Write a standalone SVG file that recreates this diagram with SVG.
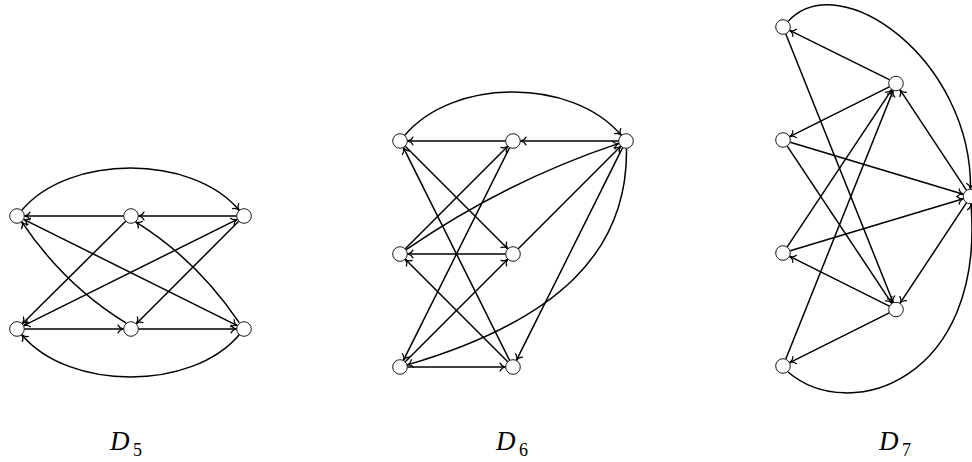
<svg xmlns="http://www.w3.org/2000/svg" width="972" height="462" viewBox="0 0 972 462">
<defs>
<marker id="arr" markerUnits="userSpaceOnUse" markerWidth="12" markerHeight="12" refX="0" refY="0" orient="auto-start-reverse" overflow="visible">
<path d="M -5.5,-4 C -4.4,-1.4 -1.7,-0.3 0,0 C -1.7,0.3 -4.4,1.4 -5.5,4" fill="none" stroke="#000" stroke-width="1.2" stroke-linecap="round"/>
</marker>
<style>
.e{fill:none;stroke:#000;stroke-width:1.5;marker-end:url(#arr)}
.b{marker-start:url(#arr)}
.n{fill:#fff;stroke:#000;stroke-width:0.9}
.lbl{font-family:"Liberation Serif","Times New Roman",serif;font-size:27px;font-style:italic;fill:#000}
.sub{font-family:"Liberation Serif","Times New Roman",serif;font-size:18px;fill:#000}
</style>
</defs>
<g id="connectors">
<!-- D5 -->
<path class="e" d="M 21.8,210.3 C 69,154 192,154 239.2,210.3"/>
<path class="e" d="M 239.2,334.7 C 192,391 69,391 21.8,334.7"/>
<path class="e" d="M 123.5,216 L 24.5,216"/>
<path class="e" d="M 236.5,216 L 138.5,216"/>
<path class="e" d="M 24.5,329 L 123.5,329"/>
<path class="e" d="M 138.5,329 L 236.5,329"/>
<path class="e" d="M 125.7,221.3 L 22.3,323.7"/>
<path class="e b" d="M 237.3,219.3 L 23.7,325.7"/>
<path class="e" d="M 238.7,221.3 L 136.3,323.7"/>
<path class="e b" d="M 23.7,219.3 L 237.3,325.7"/>
<path class="e" d="M 126.3,323.2 Q 64,285 21.8,221.8"/>
<path class="e" d="M 239.2,322.7 Q 197,260 135.7,221.8"/>
<!-- D6 -->
<path class="e" d="M 404.8,135.3 C 453.2,77.6 572.8,77.6 621.2,135.3"/>
<path class="e" d="M 505.5,141 L 407.5,141"/>
<path class="e" d="M 618.5,141 L 520.5,141"/>
<path class="e" d="M 505.5,254 L 407.5,254"/>
<path class="e" d="M 407.5,367 L 505.5,367"/>
<path class="e" d="M 405.3,248.7 L 507.7,146.3"/>
<path class="e" d="M 509.6,147.7 L 403.4,360.3"/>
<path class="e" d="M 405.3,146.3 L 507.7,248.7"/>
<path class="e" d="M 509.6,360.3 L 403.4,147.7"/>
<path class="e" d="M 406.2,249.7 Q 505,181.4 618.9,143.4"/>
<path class="e" d="M 518.3,248.7 L 620.7,146.3"/>
<path class="e" d="M 622.6,147.7 L 516.4,360.3"/>
<path class="e" d="M 626.5,148.5 C 628,250 560,320 407.2,364.9"/>
<path class="e" d="M 405.3,361.7 L 507.7,259.3"/>
<path class="e" d="M 507.7,361.7 L 405.3,259.3"/>
<!-- D7 -->
<path class="e" d="M 788,21.5 C 840,-35 972,60 970.5,189"/>
<path class="e" d="M 788,372 C 850,425 985,380 971,204"/>
<path class="e" d="M 889.3,79.6 L 789.7,30.4"/>
<path class="e" d="M 889.3,86.9 L 789.7,136.6"/>
<path class="e" d="M 790.2,142.2 L 963.3,194.3"/>
<path class="e" d="M 787.2,146.2 L 891.8,303.3"/>
<path class="e" d="M 785.8,34 L 893.2,302.5"/>
<path class="e" d="M 966.4,190.2 L 900.1,89.8"/>
<path class="e" d="M 787.2,246.8 L 891.8,89.7"/>
<path class="e" d="M 785.8,359 L 893.2,90.5"/>
<path class="e" d="M 790.2,250.8 L 963.3,198.7"/>
<path class="e" d="M 889.3,306.1 L 789.7,256.4"/>
<path class="e" d="M 889.3,312.9 L 789.7,362.6"/>
<path class="e" d="M 966.4,202.8 L 900.1,303.2"/>
</g>
<g id="d5-tl"><circle class="n" cx="17" cy="216" r="7.3"/></g>
<g id="d5-tm"><circle class="n" cx="131" cy="216" r="7.3"/></g>
<g id="d5-tr"><circle class="n" cx="244" cy="216" r="7.3"/></g>
<g id="d5-bl"><circle class="n" cx="17" cy="329" r="7.3"/></g>
<g id="d5-bm"><circle class="n" cx="131" cy="329" r="7.3"/></g>
<g id="d5-br"><circle class="n" cx="244" cy="329" r="7.3"/></g>
<g id="d6-a"><circle class="n" cx="400" cy="141" r="7.3"/></g>
<g id="d6-b"><circle class="n" cx="513" cy="141" r="7.3"/></g>
<g id="d6-c"><circle class="n" cx="626" cy="141" r="7.3"/></g>
<g id="d6-d"><circle class="n" cx="400" cy="254" r="7.3"/></g>
<g id="d6-e"><circle class="n" cx="513" cy="254" r="7.3"/></g>
<g id="d6-f"><circle class="n" cx="400" cy="367" r="7.3"/></g>
<g id="d6-g"><circle class="n" cx="513" cy="367" r="7.3"/></g>
<g id="d7-p1"><circle class="n" cx="783" cy="27" r="7.3"/></g>
<g id="d7-p2"><circle class="n" cx="896" cy="83.5" r="7.3"/></g>
<g id="d7-p3"><circle class="n" cx="783" cy="140" r="7.3"/></g>
<g id="d7-r"><circle class="n" cx="970.5" cy="196.5" r="7.3"/></g>
<g id="d7-p4"><circle class="n" cx="783" cy="253" r="7.3"/></g>
<g id="d7-p5"><circle class="n" cx="896" cy="309.5" r="7.3"/></g>
<g id="d7-p6"><circle class="n" cx="783" cy="366" r="7.3"/></g>
<g id="labels">
<text class="lbl" x="110" y="450">D</text><text class="sub" x="133" y="456">5</text>
<text class="lbl" x="496" y="450">D</text><text class="sub" x="519" y="456">6</text>
<text class="lbl" x="879" y="450">D</text><text class="sub" x="902" y="456">7</text>
</g>
</svg>
